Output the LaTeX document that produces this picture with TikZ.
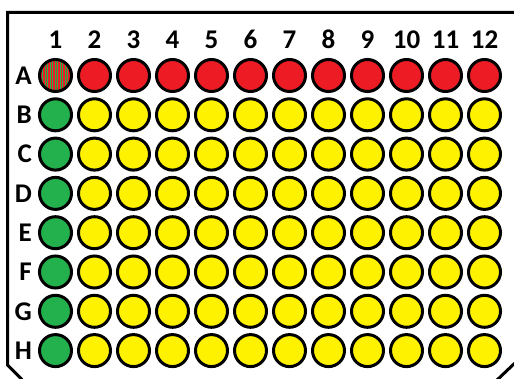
\documentclass[tikz,border=0pt]{standalone}
\usepackage{fontspec}
\setmainfont{Carlito}
\usetikzlibrary{positioning}
\definecolor{wellred}{HTML}{ED1C24}
\definecolor{wellyellow}{HTML}{FFF200}
\definecolor{wellgreen}{HTML}{22B14C}
\tikzset{
  well/.style={circle, draw=black, line width=3pt, inner sep=0pt, minimum size=32pt},
  redwell/.style={well, fill=wellred},
  yellowwell/.style={well, fill=wellyellow},
  greenwell/.style={well, fill=wellgreen},
  mixwell/.style={well, fill=wellred, path picture={
      \foreach \s in {-16,-13.5,...,16}
        \fill[wellgreen] ([xshift=\s pt]path picture bounding box.south) rectangle ++(1.2pt,32pt);}},
  plate/.style={draw=black, line width=3pt},
  lbl/.style={font=\fontsize{27}{27}\selectfont\bfseries, inner sep=0pt}
}

\begin{document}
\begin{tikzpicture}[x=1pt, y=-1pt]
  \useasboundingbox (0,0) rectangle (514,379);
  % plate outline
  \draw[plate] (518,12.5) -- (7.5,12.5) -- (7.5,365) -- (22,379.5);
  \draw[plate] (497,380) -- (516,362);
  % row A
  \node[mixwell] (A1) at (55.5,75.5) {};
  \foreach \c in {2,...,12}
    \node[redwell] (A\c) at (55.5+39*\c-39,75.5) {};
  % rows B to H
  \foreach \r [count=\i] in {B,...,H} {
    \node[greenwell] (\r1) at (55.5,75.5+39.3*\i) {};
    \foreach \c in {2,...,12}
      \node[yellowwell] (\r\c) at (55.5+39*\c-39,75.5+39.3*\i) {};
  }
  % labels
  \foreach \c in {1,...,12}
    \node[lbl, above=9pt of A\c] (col\c) {\c};
  \foreach \r in {A,...,H}
    \node[lbl, left=6pt of \r1] (row\r) {\r};
\end{tikzpicture}
\end{document}
